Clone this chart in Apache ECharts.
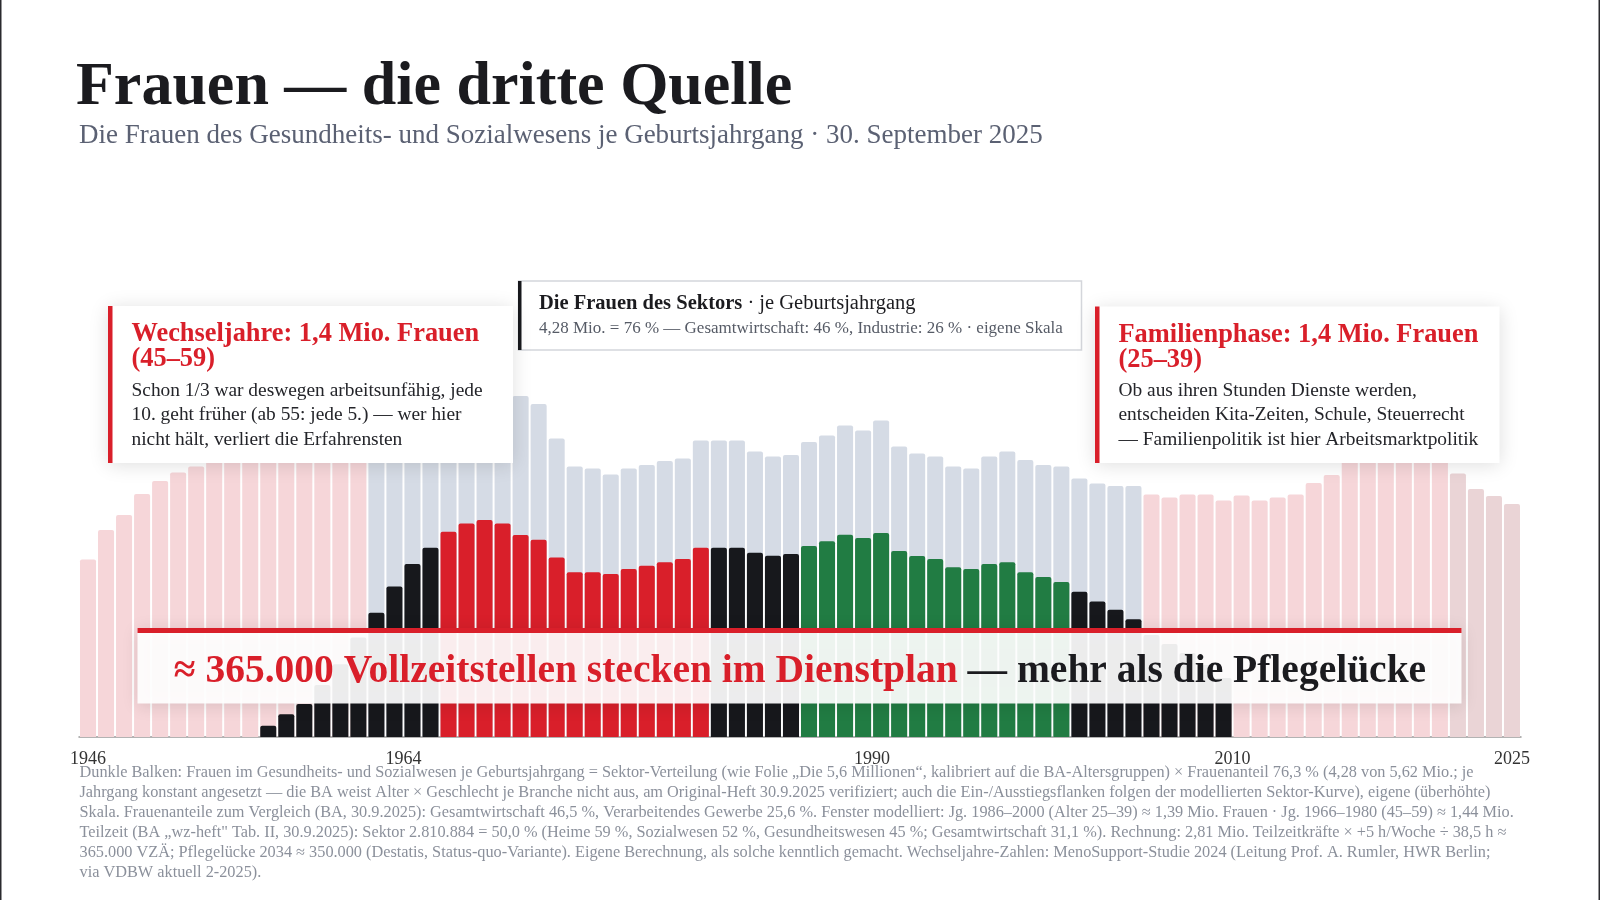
<!DOCTYPE html>
<html lang="de">
<head>
<meta charset="utf-8">
<title>Frauen — die dritte Quelle</title>
<script src="https://cdn.jsdelivr.net/npm/echarts@6/dist/echarts.min.js"></script>
<style>
  html, body { margin: 0; padding: 0; background: #fff; }
  #chart { width: 1600px; height: 900px; }
</style>
</head>
<body>
<div id="chart"></div>
<script>
// Geburtsjahrgaenge 1946 bis 2025
const jahre = Array.from({ length: 80 }, (_, i) => String(1946 + i));
const tickJahre = ['1946', '1964', '1990', '2010', '2025'];
// these ticks sit on the left edge of their bar, not its centre
const tickAmRand = ['1964', '1990', '2010'];

// Frauen je Jahrgang insgesamt (Tsd., Hintergrundbalken)
const jahrgangFrauen = [
  355, 414, 444, 486, 512, 529, 541, 556, 566, 576, 590, 604, 616, 630, 640, 652,
  664, 676, 688, 698, 700, 702, 698, 690,
  682, 666, 597, 541, 537, 525, 537, 544, 552, 557, 593, 593, 593, 571, 561, 564,
  590, 603, 623, 613, 633, 581, 567, 561, 541, 537, 561, 571, 554, 544, 541,
  517, 507, 502, 502,
  485, 479, 485, 485, 473, 483, 473, 479, 485, 508, 524,
  556, 566, 572, 574, 570, 562,
  527, 496, 482, 466
];

// Frauen im Gesundheits- und Sozialwesen je Jahrgang (Tsd., eigene Skala)
const sektorFrauen = [
  null, null, null, null, null, null, null, null, null, null,
  5.8, 11.7, 17.0, 26.7, 37.4, 51.2, 63.9, 77.3, 88.9, 97.3,
  105.5, 109.8, 111.5, 109.8, 103.8, 101.4, 92.2, 84.7, 84.7, 83.8, 86.4, 88.0, 89.8, 91.5, 97.3,
  97.3, 97.3, 94.7, 93.2, 94.1,
  98.2, 100.6, 104.0, 102.3, 104.9, 95.6, 93.0, 91.5, 87.2, 86.4, 88.9, 89.8, 84.7, 82.2, 79.7,
  74.7, 69.7, 65.4, 60.5, 52.4, 47.8, 43.2, 37.0, 30.3,
  null, null, null, null, null, null, null, null, null, null, null, null, null, null, null, null
];

const fensterWechseljahre = [1966, 1980];
const fensterFamilie = [1986, 2000];
const kernSpanne = [1962, 2004];
const jungeJahrgaenge = [2022, 2025];

const RED = '#d91f2a';
const GREEN = '#217c43';
const BLACK = '#17181c';
const SERIF = "'Liberation Serif', 'DejaVu Serif', serif";

const inRange = (y, r) => y >= r[0] && y <= r[1];

const chart = echarts.init(document.getElementById('chart'));

const footnote = [
  'Dunkle Balken: Frauen im Gesundheits- und Sozialwesen je Geburtsjahrgang = Sektor-Verteilung (wie Folie „Die 5,6 Millionen“, kalibriert auf die BA-Altersgruppen) × Frauenanteil 76,3 % (4,28 von 5,62 Mio.; je',
  'Jahrgang konstant angesetzt — die BA weist Alter × Geschlecht je Branche nicht aus, am Original-Heft 30.9.2025 verifiziert; auch die Ein-/Ausstiegsflanken folgen der modellierten Sektor-Kurve), eigene (überhöhte)',
  'Skala. Frauenanteile zum Vergleich (BA, 30.9.2025): Gesamtwirtschaft 46,5 %, Verarbeitendes Gewerbe 25,6 %. Fenster modelliert: Jg. 1986–2000 (Alter 25–39) ≈ 1,39 Mio. Frauen · Jg. 1966–1980 (45–59) ≈ 1,44 Mio.',
  'Teilzeit (BA „wz-heft" Tab. II, 30.9.2025): Sektor 2.810.884 = 50,0 % (Heime 59 %, Sozialwesen 52 %, Gesundheitswesen 45 %; Gesamtwirtschaft 31,1 %). Rechnung: 2,81 Mio. Teilzeitkräfte × +5 h/Woche ÷ 38,5 h ≈',
  '365.000 VZÄ; Pflegelücke 2034 ≈ 350.000 (Destatis, Status-quo-Variante). Eigene Berechnung, als solche kenntlich gemacht. Wechseljahre-Zahlen: MenoSupport-Studie 2024 (Leitung Prof. A. Rumler, HWR Berlin;',
  'via VDBW aktuell 2-2025).'
].join('\n');

// annotation card with red edge
function card(x, y, w, h, title, body, bodyTop) {
  return [
    { type: 'rect', z: 100, shape: { x: x, y: y, width: w, height: h },
      style: { fill: '#fff', shadowBlur: 18, shadowColor: 'rgba(0,0,0,0.13)', shadowOffsetY: 2 } },
    { type: 'rect', z: 101, shape: { x: x, y: y, width: 4.5, height: h }, style: { fill: RED } },
    { type: 'text', z: 102, x: x + 23.5, y: y + 16,
      style: { text: title, font: 'bold 26.4px ' + SERIF, fill: RED, lineHeight: 25,
               align: 'left', verticalAlign: 'top', textAlign: 'left', textVerticalAlign: 'top' } },
    { type: 'text', z: 102, x: x + 23.5, y: bodyTop,
      style: { text: body, font: '19.4px ' + SERIF, fill: '#24252a', lineHeight: 24.5,
               align: 'left', verticalAlign: 'top', textAlign: 'left', textVerticalAlign: 'top' } }
  ];
}

const option = {
  backgroundColor: '#fff',
  animation: false,
  grid: { left: 79, right: 79, top: 337, bottom: 163 },
  xAxis: {
    type: 'category',
    data: jahre,
    boundaryGap: true,
    axisLine: { lineStyle: { color: '#9a9a9a', width: 1.5 } },
    axisTick: { show: false },
    axisLabel: {
      interval: (i, v) => tickJahre.includes(v),
      formatter: v => (tickAmRand.includes(v) ? '{m|' + v + '}' : '{e|' + v + '}'),
      color: '#333',
      fontFamily: SERIF,
      fontSize: 18,
      margin: 13,
      rich: {
        e: { fontFamily: SERIF, fontSize: 18, color: '#333' },
        m: { fontFamily: SERIF, fontSize: 18, color: '#333', padding: [0, 18, 0, 0] }
      }
    }
  },
  yAxis: [
    { type: 'value', min: 0, max: 800, show: false },
    { type: 'value', min: 0, max: 205.6, show: false }
  ],
  series: [
    {
      name: 'Frauen je Jahrgang',
      type: 'bar',
      yAxisIndex: 0,
      barGap: '-100%',
      barCategoryGap: '11%',
      data: jahrgangFrauen,
      itemStyle: {
        borderRadius: [2, 2, 0, 0],
        color: p => {
          const y = Number(p.name);
          if (inRange(y, kernSpanne)) return '#d5dbe5';
          if (inRange(y, jungeJahrgaenge)) return '#ead4d6';
          return '#f6d6d9';
        }
      }
    },
    {
      name: 'Frauen im Sektor',
      type: 'bar',
      yAxisIndex: 1,
      barGap: '-100%',
      barCategoryGap: '11%',
      data: sektorFrauen,
      itemStyle: {
        borderRadius: [2, 2, 0, 0],
        color: p => {
          const y = Number(p.name);
          if (inRange(y, fensterWechseljahre)) return RED;
          if (inRange(y, fensterFamilie)) return GREEN;
          return BLACK;
        }
      }
    }
  ],
  graphic: {
    elements: [
      // page frame
      { type: 'rect', shape: { x: 0, y: 0, width: 1.5, height: 900 }, style: { fill: '#2a2a2e' } },
      { type: 'rect', shape: { x: 1598.5, y: 0, width: 1.5, height: 900 }, style: { fill: '#2a2a2e' } },

      { type: 'text', x: 76, y: 88,
        style: { text: 'Frauen — die dritte Quelle', font: 'bold 62px ' + SERIF, fill: '#1b1b1f',
                 verticalAlign: 'middle', textVerticalAlign: 'middle' } },
      { type: 'text', x: 79, y: 136,
        style: { text: 'Die Frauen des Gesundheits- und Sozialwesens je Geburtsjahrgang · 30. September 2025',
                 font: '27px ' + SERIF, fill: '#5b6173', verticalAlign: 'middle', textVerticalAlign: 'middle' } },

      // Erklaerung oben in der Mitte
      { type: 'rect', z: 100, shape: { x: 518.5, y: 281, width: 563, height: 69 },
        style: { fill: '#fff', stroke: '#d4d6db', lineWidth: 1.5 } },
      { type: 'rect', z: 101, shape: { x: 518, y: 281, width: 3.5, height: 69 }, style: { fill: BLACK } },
      { type: 'text', z: 102, x: 539, y: 304,
        style: {
          text: '{b|Die Frauen des Sektors}{n| · je Geburtsjahrgang}',
          verticalAlign: 'middle', textVerticalAlign: 'middle',
          rich: {
            b: { font: 'bold 20.5px ' + SERIF, fill: '#1b1b1f' },
            n: { font: '20.5px ' + SERIF, fill: '#1b1b1f' }
          }
        } },
      { type: 'text', z: 102, x: 539, y: 328.5,
        style: { text: '4,28 Mio. = 76 % — Gesamtwirtschaft: 46 %, Industrie: 26 % · eigene Skala',
                 font: '17px ' + SERIF, fill: '#565b66', verticalAlign: 'middle', textVerticalAlign: 'middle' } },

      ...card(108, 306, 405, 157, 'Wechseljahre: 1,4 Mio. Frauen\n(45–59)',
        'Schon 1/3 war deswegen arbeitsunfähig, jede\n10. geht früher (ab 55: jede 5.) — wer hier\nnicht hält, verliert die Erfahrensten', 378.5),
      ...card(1095, 306.5, 404.5, 156.5, 'Familienphase: 1,4 Mio. Frauen\n(25–39)',
        'Ob aus ihren Stunden Dienste werden,\nentscheiden Kita-Zeiten, Schule, Steuerrecht\n— Familienpolitik ist hier Arbeitsmarktpolitik', 378.5),

      // Kernaussage
      { type: 'rect', z: 100, shape: { x: 137.5, y: 628, width: 1324, height: 75.5 },
        style: { fill: 'rgba(255,255,255,0.92)', shadowBlur: 16, shadowColor: 'rgba(0,0,0,0.12)', shadowOffsetY: 2 } },
      { type: 'rect', z: 101, shape: { x: 137.5, y: 628, width: 1324, height: 5 }, style: { fill: RED } },
      { type: 'text', z: 102, x: 800, y: 672,
        style: {
          text: '{r|≈ 365.000 Vollzeitstellen stecken im Dienstplan}{k| — mehr als die Pflegelücke}',
          align: 'center', textAlign: 'center', verticalAlign: 'middle', textVerticalAlign: 'middle',
          rich: {
            r: { font: 'bold 39.5px ' + SERIF, fill: RED },
            k: { font: 'bold 39.5px ' + SERIF, fill: '#1b1b1f' }
          }
        } },

      // Quellen
      { type: 'text', x: 79.5, y: 762.5,
        style: { text: footnote, font: '16.3px ' + SERIF, fill: '#8b909b', lineHeight: 20,
                 verticalAlign: 'top', textVerticalAlign: 'top' } }
    ]
  }
};

chart.setOption(option);
</script>
</body>
</html>
